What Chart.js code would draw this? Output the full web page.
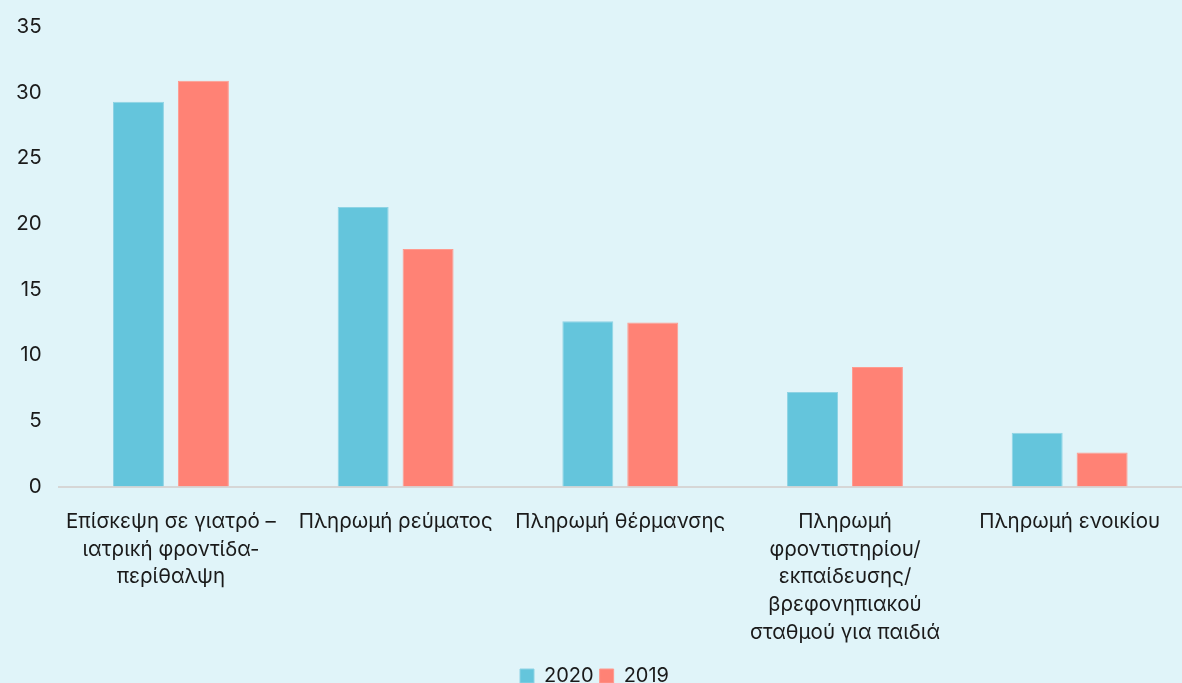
<!DOCTYPE html>
<html>
<head>
<meta charset="utf-8">
<script src="https://cdn.jsdelivr.net/npm/chart.js@4/dist/chart.umd.min.js"></script>
<style>
html,body{margin:0;padding:0;background:#E0F4F9;}
canvas{display:block;}
</style>
</head>
<body>
<canvas id="c" width="1182" height="683"></canvas>
<script>
const categories = [
  ['Επίσκεψη σε γιατρό –', 'ιατρική φροντίδα-', 'περίθαλψη'],
  'Πληρωμή ρεύματος',
  'Πληρωμή θέρμανσης',
  ['Πληρωμή', 'φροντιστηρίου/', 'εκπαίδευσης/', 'βρεφονηπιακού', 'σταθμού για παιδιά'],
  'Πληρωμή ενοικίου'
];
const values2020 = [29.3, 21.3, 12.6, 7.2, 4.1];
const values2019 = [30.9, 18.1, 12.5, 9.1, 2.6];
const seriesNames = ['2020', '2019'];

const FONT = "Inter, 'Noto Sans', sans-serif";

new Chart(document.getElementById('c'), {
  type: 'bar',
  data: {
    labels: categories,
    datasets: [
      { label: seriesNames[0], data: values2020, backgroundColor: '#64C5DC', borderColor: '#8ED3E4', borderWidth: 1,
        categoryPercentage: 0.578, barPercentage: 0.785 },
      { label: seriesNames[1], data: values2019, backgroundColor: '#FF8275', borderColor: '#FF9A8F', borderWidth: 1,
        categoryPercentage: 0.578, barPercentage: 0.785 }
    ]
  },
  options: {
    responsive: false,
    animation: false,
    layout: { padding: { top: 27, right: 0, left: 7, bottom: -13 } },
    plugins: {
      legend: {
        position: 'bottom',
        labels: {
          font: { family: FONT, size: 20 },
          color: '#1a1a1a',
          boxWidth: 14, boxHeight: 14,
          padding: 6
        }
      },
      tooltip: { enabled: false }
    },
    scales: {
      x: {
        grid: { display: false },
        border: { display: true, color: '#D6D6D6', width: 2 },
        ticks: {
          color: '#1a1a1a',
          font: { family: FONT, size: 20.5, lineHeight: 1.36 },
          maxRotation: 0, minRotation: 0, autoSkip: false,
          padding: 13
        }
      },
      y: {
        min: 0, max: 35,
        grid: { display: false },
        border: { display: false },
        ticks: {
          stepSize: 5,
          color: '#1a1a1a',
          font: { family: FONT, size: 20.5 },
          padding: 9
        }
      }
    }
  }
});
</script>
</body>
</html>
